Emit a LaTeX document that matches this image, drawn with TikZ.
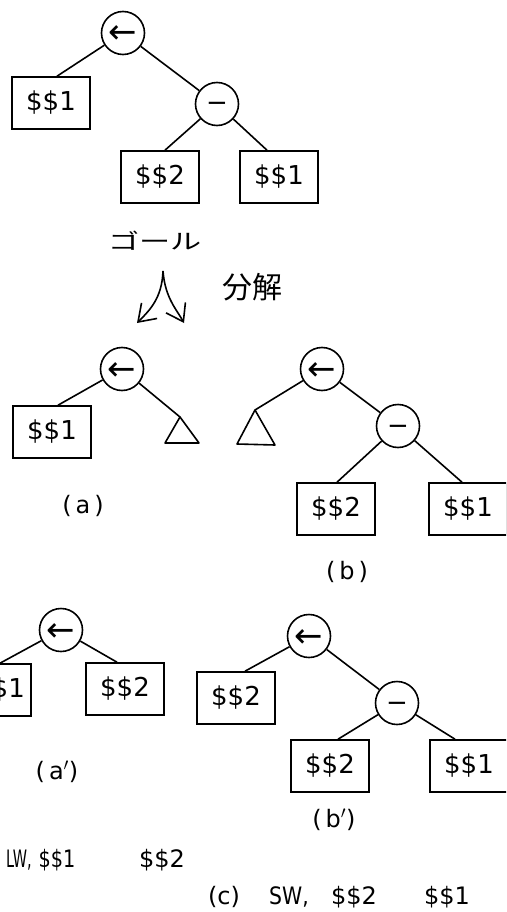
\documentclass[tikz,border=0pt]{standalone}
\usepackage{fontspec}
\usepackage{graphicx}
\setmainfont{DejaVu Sans}
\newfontfamily\jpf{Noto Sans CJK JP}
\usetikzlibrary{arrows.meta}
\newcommand\centred[2]{\smash{\raisebox{-#1}{#2}}}
\tikzset{
  opnode/.style={circle, draw, line width=1.6pt, minimum size=43pt, inner sep=0pt},
  assign/.style={opnode, font=\fontsize{34}{34}\selectfont},
  minus/.style={opnode, font=\fontsize{26}{26}\selectfont},
  leaf/.style={draw, line width=1.6pt, minimum width=78pt, minimum height=52pt, inner sep=0pt, font=\fontsize{26}{26}\selectfont},
  link/.style={line width=1.6pt},
  lab/.style={font=\fontsize{24}{24}\selectfont, inner sep=0pt},
  tri/.style={line width=1.6pt, line join=round},
}
\begin{document}
\begin{tikzpicture}[x=1pt, y=-1pt]
\clip (0,0) rectangle (506,912);
% ---------- goal tree ----------
\node[assign] (g0) at (123,33) {\centred{11pt}{←}};
\node[leaf] (g1) at (51,103) {\$\$1};
\node[minus] (g2) at (217,104) {\centred{8pt}{−}};
\node[leaf] (g3) at (160,177) {\$\$2};
\node[leaf] (g4) at (279,177) {\$\$1};
\draw[link] (g0) -- ([xshift=6pt]g1.north);
\draw[link] (g0) -- (g2);
\draw[link] (g2) -- ([xshift=5pt]g3.north);
\draw[link] (g2) -- ([xshift=-12pt]g4.north);
\node[inner sep=0pt] (goal) at (155,241) {\scalebox{1.3}[0.9]{\jpf\fontsize{24}{24}\selectfont ゴール}};
% ---------- decomposition arrow ----------
\coordinate (sp) at (163,271);
\coordinate (sl) at (137,323);
\coordinate (sr) at (184,323);
\draw[link, -{Straight Barb[length=16pt,width=22pt,line width=1.6pt]}] (sp) .. controls (162,298) and (150,310) .. (sl);
\draw[link, -{Straight Barb[length=16pt,width=22pt,line width=1.6pt]}] (sp) .. controls (165,298) and (177,310) .. (sr);
\node[inner sep=0pt] (bunkai) at (252,287) {\jpf\fontsize{30}{30}\selectfont 分解};
% ---------- (a) ----------
\node[assign] (a0) at (122,369) {\centred{11pt}{←}};
\node[leaf] (a1) at (52,432) {\$\$1};
\coordinate (ta) at (180,417);
\draw[tri] (ta) -- (165,443) -- (199,443) -- cycle;
\draw[link] (a0) -- ([xshift=6pt]a1.north);
\draw[link] (a0) -- (ta);
\node[lab] (la) at (83,506) {(\,a\,)};
% ---------- (b) ----------
\node[assign] (b0) at (322,369) {\centred{11pt}{←}};
\coordinate (tb) at (255,410);
\draw[tri] (tb) -- (237,444) -- (275,445) -- cycle;
\node[minus] (b2) at (398,426) {\centred{8pt}{−}};
\node[leaf] (b3) at (336,509) {\$\$2};
\node[leaf] (b4) at (468,509) {\$\$1};
\draw[link] (b0) -- (tb);
\draw[link] (b0) -- (b2);
\draw[link] (b2) -- ([xshift=1pt]b3.north);
\draw[link] (b2) -- ([xshift=-6pt]b4.north);
\node[lab] (lb) at (347,572) {(\,b\,)};
% ---------- (a') ----------
\node[assign] (p0) at (61,630) {\centred{11pt}{←}};
\node[leaf] (p1) at (-8,690) {\hspace*{16pt}\$\$1};
\node[leaf] (p2) at (125,689) {\$\$2};
\draw[link] (p0) -- ([xshift=8pt]p1.north);
\draw[link] (p0) -- ([xshift=-8pt]p2.north);
\node[lab] (lp) at (57,772) {(\,a$'$)};
% ---------- (b') ----------
\node[assign] (q0) at (309,636) {\centred{11pt}{←}};
\node[leaf] (q1) at (236,698) {\$\$2};
\node[minus] (q2) at (397,703) {\centred{8pt}{−}};
\node[leaf] (q3) at (330,766) {\$\$2};
\node[leaf] (q4) at (469,766) {\$\$1};
\draw[link] (q0) -- ([xshift=9pt]q1.north);
\draw[link] (q0) -- (q2);
\draw[link] (q2) -- ([xshift=8pt]q3.north);
\draw[link] (q2) -- ([xshift=-14pt]q4.north);
\node[lab] (lq) at (334,820) {(\,b$'$)};
% ---------- code ----------
\node[lab, anchor=west] (lw) at (6,860) {\scalebox{0.6}[1]{LW,}};
\node[lab] (lw1) at (57,860) {\scalebox{0.8}[1]{\$\$1}};
\node[lab] (lw2) at (162,860) {\$\$2};
\node[lab] (cc) at (224,897) {(c)};
\node[lab] (sw) at (289,897) {\scalebox{0.85}[1]{SW,}};
\node[lab] (sw1) at (354,897) {\$\$2};
\node[lab] (sw2) at (447,897) {\$\$1};
\end{tikzpicture}
\end{document}
